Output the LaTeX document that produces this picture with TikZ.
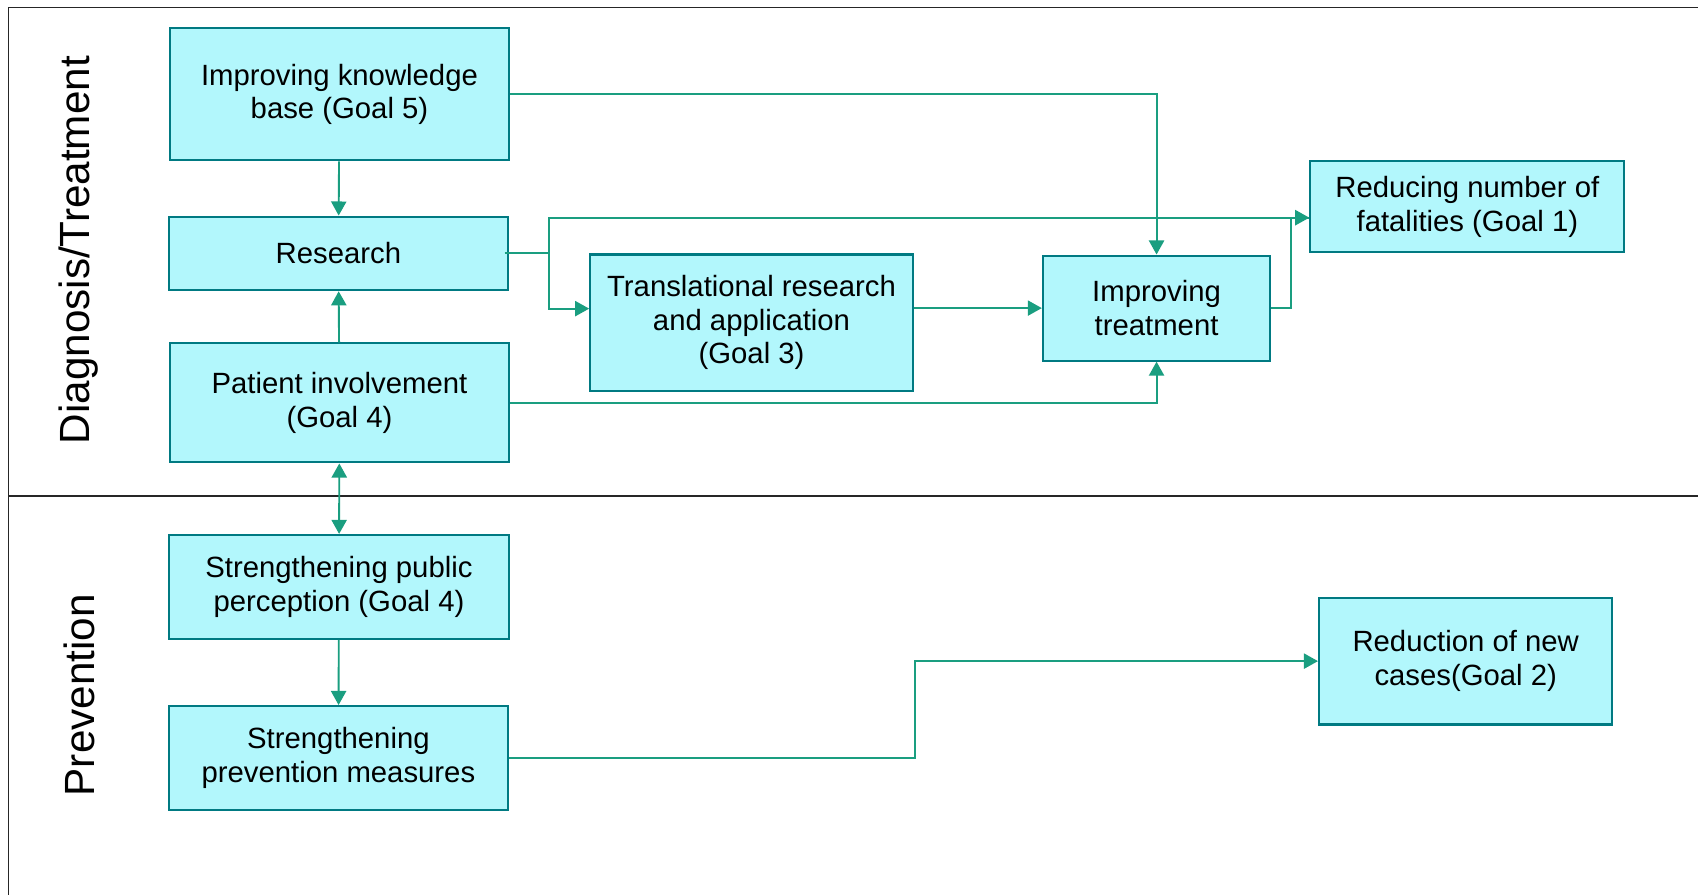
\documentclass[tikz,border=0pt]{standalone}
\usepackage{fontspec}
\setmainfont{Liberation Sans}
\usepackage{tikz}
\usetikzlibrary{calc,arrows.meta}
\definecolor{boxfill}{RGB}{178,247,252}
\definecolor{boxline}{RGB}{0,122,130}
\definecolor{linkcol}{RGB}{26,158,128}

\begin{document}
\begin{tikzpicture}[x=0.02cm, y=-0.02cm,
    goal/.style={draw=boxline, line width=1.1pt, fill=boxfill, inner sep=0pt,
        align=center, font=\fontsize{15.4}{17.6}\selectfont},
    lane/.style={rotate=90, font=\fontsize{22.2}{26}\selectfont},
    conn/.style={draw=linkcol, line width=1pt},
    arr/.style={conn, -{Triangle[length=0.26cm, width=0.28cm]}},
    arrboth/.style={conn, {Triangle[length=0.26cm, width=0.28cm]}-{Triangle[length=0.26cm, width=0.28cm]}},
    frame/.style={draw=black!85, line width=0.6pt}]
    \useasboundingbox (0,0) rectangle (1568,826);

    % Swim lanes
    \draw[frame] (8,826) -- (8,7) -- (1568,7);
    \draw[frame] (8,458) -- (1568,458);
    \node[lane] (diaglab) at (73,231) {Diagnosis/Treatment};
    \node[lane] (prevlab) at (73,642) {Prevention};

    % Goal boxes, diagnosis/treatment lane
    \node[goal, minimum width=6.26cm, minimum height=2.44cm] (know) at (313.5,87) {Improving knowledge\\base (Goal 5)};
    \node[goal, minimum width=6.26cm, minimum height=1.36cm] (research) at (312.5,234) {Research};
    \node[goal, minimum width=6.26cm, minimum height=2.2cm] (patient) at (313.5,372) {Patient involvement\\(Goal 4)};
    \node[goal, minimum width=5.96cm, minimum height=2.52cm] (transl) at (694,298) {Translational research\\and application\\(Goal 3)};
    \node[goal, minimum width=4.2cm, minimum height=1.94cm] (treat) at (1068,284.5) {Improving\\treatment};
    \node[goal, minimum width=5.8cm, minimum height=1.68cm] (fatal) at (1355,191) {Reducing number of\\fatalities (Goal 1)};

    % Goal boxes, prevention lane
    \node[goal, minimum width=6.28cm, minimum height=1.92cm] (public) at (313,542) {Strengthening public\\perception (Goal 4)};
    \node[goal, minimum width=6.26cm, minimum height=1.92cm] (prevm) at (312.5,700) {Strengthening\\prevention measures};
    \node[goal, minimum width=5.42cm, minimum height=2.34cm] (newcases) at (1353.5,610.5) {Reduction of new\\cases(Goal 2)};

    % Helper points
    \coordinate (split) at (507,234);
    \coordinate (fatin) at ($(fatal.west)+(0,10)$);
    \coordinate (translin) at ($(transl.west)+(0,-13)$);

    % Links
    \draw[arr] (know) -- (research);
    \draw[arr] (know.east) -| (treat.north);
    \draw[arr] (patient) -- (research);
    \draw[arrboth] (patient) -- (public);
    \draw[arr] (public) -- (prevm);
    \draw[conn] ([xshift=-0.08cm]research.east) -- (split);
    \draw[arr] (split) |- (fatin);
    \draw[arr] (split) |- (translin);
    \draw[arr] (transl.east |- treat.west) -- (treat.west);
    \draw[conn] (treat.east) -- ++(18,0) |- (fatin);
    \draw[arr] (patient.east) -| (treat.south);
    \draw[arr] (prevm.east) -- ++(375,0) |- (newcases.west);
\end{tikzpicture}
\end{document}
